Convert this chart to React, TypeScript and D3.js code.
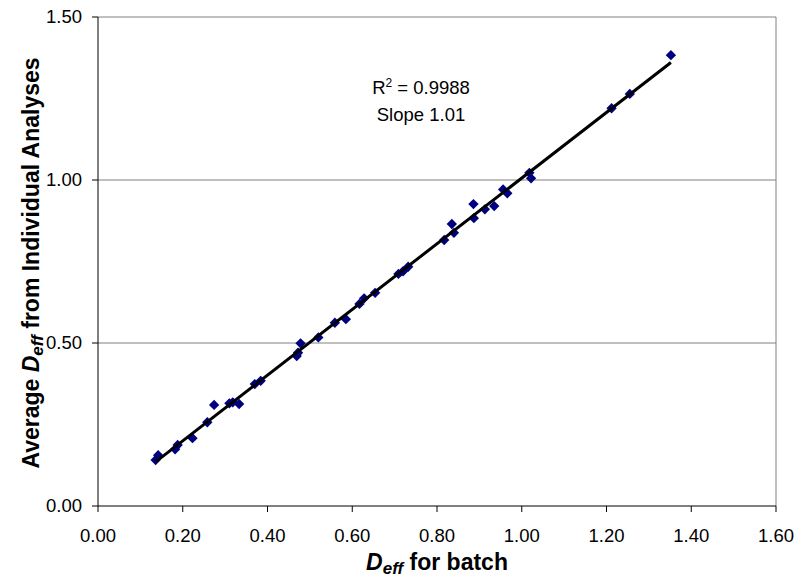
import React from "react";
import * as d3 from "d3";

const batchDeff = [
  0.136, 0.142, 0.182, 0.188, 0.223, 0.258, 0.274, 0.310, 0.318, 0.333,
  0.370, 0.384, 0.469, 0.472, 0.478, 0.520, 0.559, 0.585, 0.617, 0.628,
  0.654, 0.709, 0.720, 0.732, 0.817, 0.835, 0.840, 0.886, 0.887, 0.913,
  0.935, 0.956, 0.966, 1.018, 1.022, 1.212, 1.255, 1.352,
];
const avgDeff = [
  0.141, 0.156, 0.174, 0.187, 0.208, 0.257, 0.310, 0.315, 0.318, 0.313,
  0.374, 0.384, 0.460, 0.470, 0.499, 0.517, 0.562, 0.573, 0.620, 0.637,
  0.654, 0.712, 0.720, 0.734, 0.816, 0.865, 0.838, 0.926, 0.883, 0.910,
  0.920, 0.971, 0.959, 1.022, 1.005, 1.220, 1.264, 1.383,
];
const xTicks = [0, 0.2, 0.4, 0.6, 0.8, 1.0, 1.2, 1.4, 1.6];
const yTicks = [0, 0.5, 1.0, 1.5];
const r2Text = "0.9988";
const slopeText = "Slope 1.01";

const W = 801;
const H = 578;
const M = { left: 98, top: 17, right: 776, bottom: 506 };
const FONT = "Arial, 'Liberation Sans', sans-serif";

export default function App() {
  const x = d3.scaleLinear().domain([0, 1.6]).range([M.left, M.right]);
  const y = d3.scaleLinear().domain([0, 1.5]).range([M.bottom, M.top]);

  const pts = batchDeff.map((v, i) => [v, avgDeff[i]] as [number, number]);
  const mx = d3.mean(pts, (p) => p[0])!;
  const my = d3.mean(pts, (p) => p[1])!;
  const sxy = d3.sum(pts, (p) => (p[0] - mx) * (p[1] - my));
  const sxx = d3.sum(pts, (p) => (p[0] - mx) ** 2);
  const b = sxy / sxx;
  const a = my - b * mx;
  const [xmin, xmax] = d3.extent(batchDeff) as [number, number];
  const line = d3.line<number>().x((v) => x(v)).y((v) => y(a + b * v));

  const diamond = d3.symbol().type(d3.symbolDiamond2 || d3.symbolDiamond).size(68)();

  return (
    <svg width={W} height={H} style={{ position: "absolute", left: 0, top: 0 }} fontFamily={FONT}>
      <rect width={W} height={H} fill="#fff" />
      {yTicks.filter((t) => t > 0).map((t) => (
        <line key={t} x1={M.left} x2={M.right} y1={y(t)} y2={y(t)} stroke="#808080" strokeWidth={1} />
      ))}
      <line x1={M.right} x2={M.right} y1={M.top} y2={M.bottom} stroke="#808080" strokeWidth={1} />
      <line x1={M.left} x2={M.left} y1={M.top} y2={M.bottom} stroke="#000" strokeWidth={1} />
      <line x1={M.left} x2={M.right} y1={M.bottom} y2={M.bottom} stroke="#000" strokeWidth={1} />
      {yTicks.map((t) => (
        <g key={"y" + t}>
          <line x1={M.left - 6} x2={M.left} y1={y(t)} y2={y(t)} stroke="#000" />
          <text x={82} y={y(t)} dy="0.35em" textAnchor="end" fontSize={18.5} fill="#000">
            {t.toFixed(2)}
          </text>
        </g>
      ))}
      {xTicks.map((t) => (
        <g key={"x" + t}>
          <line x1={x(t)} x2={x(t)} y1={M.bottom} y2={M.bottom + 6} stroke="#000" />
          <text x={x(t)} y={541.5} textAnchor="middle" fontSize={18.5} fill="#000">
            {t.toFixed(2)}
          </text>
        </g>
      ))}
      {pts.map((p, i) => (
        <path key={i} d={diamond!} transform={`translate(${x(p[0])},${y(p[1])})`} fill="#000080" />
      ))}
      <path d={line([xmin, xmax])!} stroke="#000" strokeWidth={3} fill="none" />
      <text x={421} y={94} textAnchor="middle" fontSize={18.5} fill="#000">
        R<tspan dy="-7" fontSize={12}>2</tspan>
        <tspan dy="7"> = {r2Text}</tspan>
      </text>
      <text x={421} y={121} textAnchor="middle" fontSize={18.5} fill="#000">
        {slopeText}
      </text>
      <text x={x(0.8)} y={570} textAnchor="middle" fontSize={23} fontWeight="bold" fill="#000">
        <tspan fontStyle="italic">D</tspan>
        <tspan fontStyle="italic" fontSize={17} dy="4">eff</tspan>
        <tspan dy="-4"> for batch</tspan>
      </text>
      <text
        transform={`translate(39,263) rotate(-90)`}
        textAnchor="middle"
        fontSize={23}
        fontWeight="bold"
        fill="#000"
      >
        Average <tspan fontStyle="italic">D</tspan>
        <tspan fontStyle="italic" fontSize={17} dy="4">eff</tspan>
        <tspan dy="-4"> from Individual Analyses</tspan>
      </text>
    </svg>
  );
}
